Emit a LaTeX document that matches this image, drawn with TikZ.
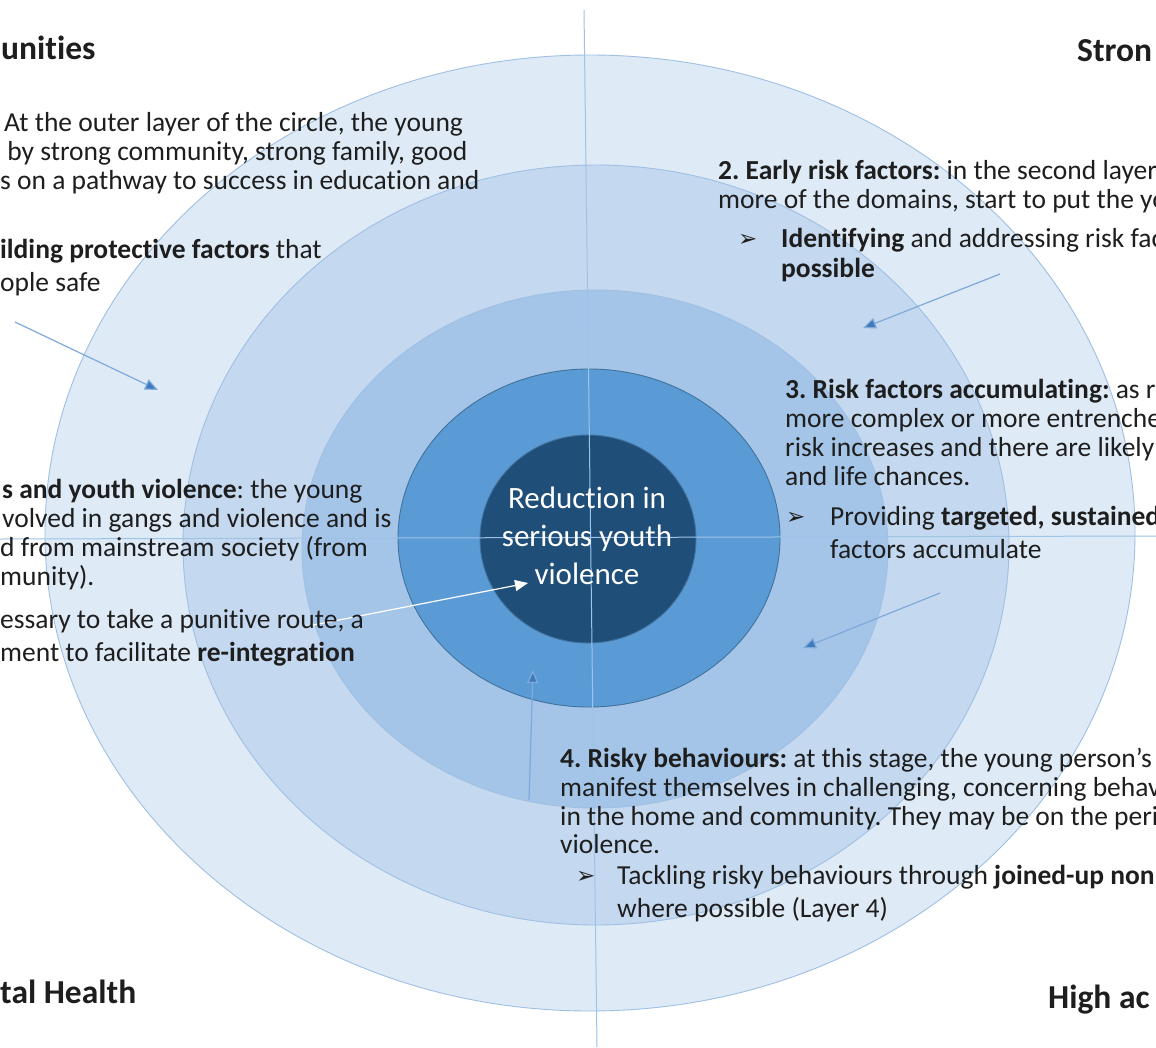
\documentclass[tikz,border=0pt]{standalone}
\usepackage{fontspec}
\setmainfont{Carlito}[Ligatures=NoCommon]
\newfontfamily\symfont{DejaVu Sans}
\usetikzlibrary{shapes.geometric,arrows.meta}
\definecolor{cOne}{HTML}{DEEAF6}
\definecolor{cTwo}{HTML}{C4D9EF}
\definecolor{cThree}{HTML}{A4C5E8}
\definecolor{cFour}{HTML}{5B9BD5}
\definecolor{cFive}{HTML}{1F4E79}
\definecolor{edgeL}{HTML}{9FBFE3}
\definecolor{edgeD}{HTML}{41719C}
\definecolor{crossc}{HTML}{9DC3E6}
\definecolor{arrc}{HTML}{7FA9DA}
\definecolor{tipc}{HTML}{4179BD}
\definecolor{textc}{HTML}{1E1E1E}
\frenchspacing
\begin{document}
\begin{tikzpicture}[x=1pt,y=-1pt,
  layer/.style={ellipse, inner sep=0pt, line width=0.9pt},
  txt/.style={anchor=base west, inner sep=0pt, font=\fontsize{27.5}{29}\selectfont, text=textc},
  head/.style={anchor=base west, inner sep=0pt, font=\fontsize{33.5}{36}\selectfont\bfseries, text=textc},
  bul/.style={anchor=base west, inner sep=0pt, font=\symfont\fontsize{23}{24}\selectfont, text=textc},
  arr/.style={draw=arrc, line width=1.2pt, -{Triangle[length=13pt,width=11pt,fill=tipc]}},
  crossline/.style={draw=crossc, line width=1pt}
]
\useasboundingbox (0,0) rectangle (1156,1047);
\clip (0,0) rectangle (1156,1047);
\fill[white] (0,0) rectangle (1156,1047);

% concentric layers
\node[layer, fill=cOne, draw=edgeL, minimum width=1090pt, minimum height=956pt] (e1) at (590,533) {};
\node[layer, fill=cTwo, draw=edgeL, minimum width=826pt, minimum height=760pt] (e2) at (596,545) {};
\node[layer, fill=cThree, draw=edgeL, minimum width=586pt, minimum height=518pt] (e3) at (595,549) {};
\node[layer, fill=cFour, draw=edgeD, minimum width=382pt, minimum height=338pt] (e4) at (589,538) {};
\node[layer, fill=cFive, draw=edgeD, minimum width=216pt, minimum height=208pt] (e5) at (588,539) {};

% cross lines
\coordinate (vt) at (584,10);
\coordinate (vb) at (597,1047);
\coordinate (hl) at (0,539);
\coordinate (hr) at (1156,536);
\draw[crossline] (vt) -- (vb);
\draw[crossline] (hl) -- (hr);

% centre text
\node[inner sep=0pt, align=center, text=white, font=\fontsize{31}{38}\selectfont] (ctext) at (587,536) {Reduction in\\serious youth\\violence};

% arrows
\coordinate (a1s) at (15,322);  \coordinate (a1e) at (158,390);
\coordinate (a2s) at (1000,274); \coordinate (a2e) at (863,328);
\coordinate (a3s) at (940,593); \coordinate (a3e) at (803,648);
\coordinate (a4s) at (529,800); \coordinate (a4e) at (533,670);
\coordinate (a5s) at (303,627); \coordinate (a5e) at (528,583);
\draw[arr] (a1s) -- (a1e);
\draw[arr] (a2s) -- (a2e);
\draw[arr] (a3s) -- (a3e);
\draw[arr] (a4s) -- (a4e);
\draw[draw=white, line width=1.2pt, -{Triangle[length=13pt,width=11pt]}] (a5s) -- (a5e);

% headings
\node[head] (h1) at (1,59) {unities};
\node[head] (h2) at (1077,61) {Stron};
\node[head] (h3) at (0,1003) {tal Health};
\node[head] (h4) at (1048,1008) {High ac};

% block 1
\node[txt] (b1a) at (4,131) {At the outer layer of the circle, the young};
\node[txt] (b1b) at (1,160) {\ by strong community, strong family, good};
\node[txt] (b1c) at (0,189) {s on a pathway to success in education and};
\node[txt] (b1d) at (0,258) {\textbf{ilding protective factors} that};
\node[txt] (b1e) at (0,291) {ople safe};

% block 5 (left middle)
\node[txt] (b5a) at (2,498) {\textbf{s and youth violence}: the young};
\node[txt] (b5b) at (2,527) {volved in gangs and violence and is};
\node[txt] (b5c) at (0,556) {d from mainstream society (from};
\node[txt] (b5d) at (0,585) {munity).};
\node[txt] (b5e) at (0,628) {essary to take a punitive route, a};
\node[txt] (b5f) at (0,661) {ment to facilitate \textbf{re-integration}};

% block 2
\node[txt] (b2a) at (718,179) {\textbf{2. Early risk factors:} in the second layer};
\node[txt] (b2b) at (718,208) {more of the domains, start to put the yo};
\node[bul] (b2u) at (738,246) {➢};
\node[txt] (b2c) at (781,247) {\textbf{Identifying} and addressing risk fac};
\node[txt] (b2d) at (781,277) {\textbf{possible}};

% block 3
\node[txt] (b3a) at (785,398) {\textbf{3. Risk factors accumulating:} as r};
\node[txt] (b3b) at (785,427) {more complex or more entrenche};
\node[txt] (b3c) at (785,456) {risk increases and there are likely};
\node[txt] (b3d) at (785,485) {and life chances.};
\node[bul] (b3u) at (786,524) {➢};
\node[txt] (b3e) at (830,525) {Providing \textbf{targeted, sustained}};
\node[txt] (b3f) at (830,558) {factors accumulate};

% block 4
\node[txt] (b4a) at (560,767) {\textbf{4. Risky behaviours:} at this stage, the young person’s};
\node[txt] (b4b) at (560,796) {manifest themselves in challenging, concerning behav};
\node[txt] (b4c) at (560,825) {in the home and community. They may be on the peri};
\node[txt] (b4d) at (560,853) {violence.};
\node[bul] (b4u) at (576,883) {➢};
\node[txt] (b4e) at (617,884) {Tackling risky behaviours through \textbf{joined-up non}};
\node[txt] (b4f) at (617,917) {where possible (Layer 4)};
\end{tikzpicture}
\end{document}
